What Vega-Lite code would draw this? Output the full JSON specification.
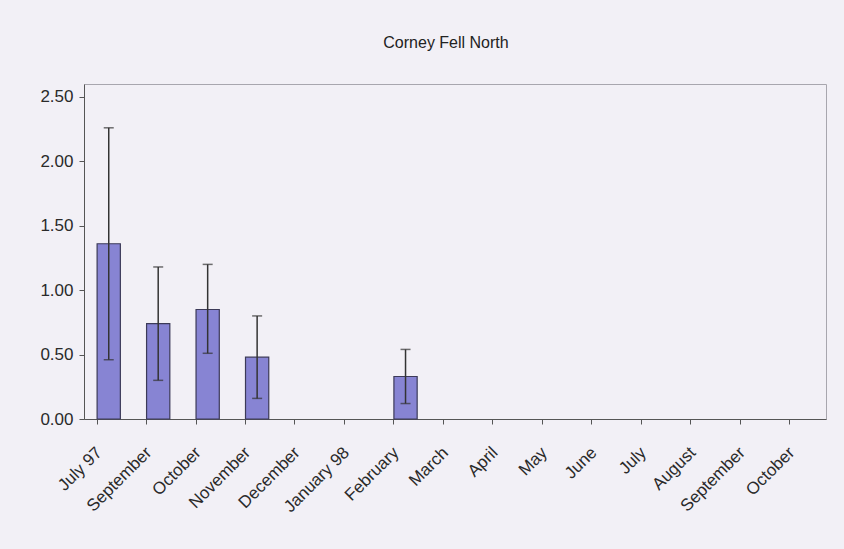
{
  "$schema": "https://vega.github.io/schema/vega-lite/v6.json",
  "width": 742,
  "height": 335,
  "autosize": "none",
  "padding": {"left": 84, "top": 84, "right": 18, "bottom": 130},
  "background": "#f2f0f6",
  "title": {"text": "Corney Fell North", "fontSize": 16, "font": "Liberation Sans", "fontWeight": "normal", "color": "#222222", "anchor": "middle", "offset": 33, "dx": -9},
  "config": {
    "view": {"stroke": "#a8a6ae", "strokeWidth": 1},
    "mark": {"invalid": "break-paths-show-domains"},
    "axis": {"labelFont": "Liberation Sans", "labelColor": "#2a2a2a", "domainColor": "#555555", "tickColor": "#555555", "grid": false, "title": null}
  },
  "data": {"values": [
    {"month": "July 97", "mean": 1.36, "lo": 0.46, "hi": 2.26},
    {"month": "September", "mean": 0.74, "lo": 0.30, "hi": 1.18},
    {"month": "October", "mean": 0.85, "lo": 0.51, "hi": 1.20},
    {"month": "November", "mean": 0.48, "lo": 0.16, "hi": 0.80},
    {"month": "December", "mean": null, "lo": null, "hi": null},
    {"month": "January 98", "mean": null, "lo": null, "hi": null},
    {"month": "February", "mean": 0.33, "lo": 0.12, "hi": 0.54},
    {"month": "March", "mean": null, "lo": null, "hi": null},
    {"month": "April", "mean": null, "lo": null, "hi": null},
    {"month": "May", "mean": null, "lo": null, "hi": null},
    {"month": "June", "mean": null, "lo": null, "hi": null},
    {"month": "July", "mean": null, "lo": null, "hi": null},
    {"month": "August", "mean": null, "lo": null, "hi": null},
    {"month": "September ", "mean": null, "lo": null, "hi": null},
    {"month": "October ", "mean": null, "lo": null, "hi": null}
  ]},
  "encoding": {
    "x": {
      "field": "month", "type": "nominal", "sort": null,
      "scale": {"paddingInner": 0.53, "paddingOuter": 0.265},
      "axis": {"labelAngle": -45, "labelFontSize": 17, "bandPosition": 0, "labelOffset": -15, "labelPadding": 20, "tickSize": 5, "labelAlign": "right", "labelBaseline": "top"}
    }
  },
  "layer": [
    {
      "mark": {"type": "bar", "fill": "#8784d3", "stroke": "#3c3a58", "strokeWidth": 1.2},
      "encoding": {
        "y": {"field": "mean", "type": "quantitative",
          "scale": {"domain": [0, 2.5]},
          "axis": {"values": [0, 0.5, 1, 1.5, 2, 2.5], "format": ".2f", "labelFontSize": 17, "labelPadding": 6, "tickSize": 5}}
      }
    },
    {
      "mark": {"type": "rule", "color": "#333333", "strokeWidth": 1.5},
      "encoding": {"y": {"field": "lo", "type": "quantitative"}, "y2": {"field": "hi"}}
    },
    {
      "mark": {"type": "tick", "color": "#333333", "size": 10, "thickness": 1.5, "orient": "horizontal"},
      "encoding": {"y": {"field": "hi", "type": "quantitative"}}
    },
    {
      "mark": {"type": "tick", "color": "#333333", "size": 10, "thickness": 1.5, "orient": "horizontal"},
      "encoding": {"y": {"field": "lo", "type": "quantitative"}}
    }
  ]
}
